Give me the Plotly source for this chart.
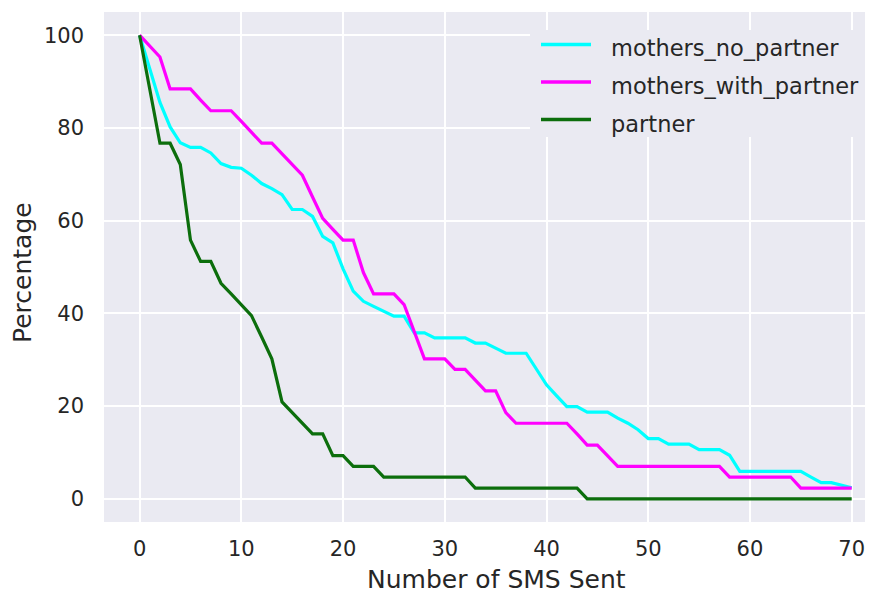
import plotly.graph_objects as go

# number of SMS sent (x axis)
sms_sent = list(range(71))

mothers_no_partner = [
    100.0, 92.6, 85.5, 80.2, 76.8, 75.8, 75.8, 74.6, 72.3, 71.5,
    71.3, 69.8, 68.0, 66.9, 65.6, 62.4, 62.4, 60.9, 56.6, 55.2,
    49.6, 44.8, 42.6, 41.5, 40.4, 39.4, 39.4, 35.8, 35.8, 34.7,
    34.7, 34.7, 34.7, 33.6, 33.6, 32.5, 31.4, 31.4, 31.4, 28.0,
    24.6, 22.2, 19.9, 19.9, 18.7, 18.7, 18.7, 17.4, 16.3, 14.9,
    13.0, 13.0, 11.8, 11.8, 11.8, 10.6, 10.6, 10.6, 9.4, 5.9,
    5.9, 5.9, 5.9, 5.9, 5.9, 5.9, 4.7, 3.5, 3.5, 2.9,
    2.4,
]

mothers_with_partner = [
    100.0, 97.7, 95.3, 88.4, 88.4, 88.4, 86.0, 83.7, 83.7, 83.7,
    81.4, 79.1, 76.7, 76.7, 74.4, 72.1, 69.8, 65.1, 60.5, 58.1,
    55.8, 55.8, 48.8, 44.2, 44.2, 44.2, 41.9, 36.0, 30.2, 30.2,
    30.2, 27.9, 27.9, 25.6, 23.3, 23.3, 18.6, 16.3, 16.3, 16.3,
    16.3, 16.3, 16.3, 14.0, 11.6, 11.6, 9.3, 7.0, 7.0, 7.0,
    7.0, 7.0, 7.0, 7.0, 7.0, 7.0, 7.0, 7.0, 4.7, 4.7,
    4.7, 4.7, 4.7, 4.7, 4.7, 2.3, 2.3, 2.3, 2.3, 2.3,
    2.3,
]

partner = [
    100.0, 88.4, 76.7, 76.7, 72.1, 55.8, 51.2, 51.2, 46.5, 44.2,
    41.9, 39.5, 34.9, 30.2, 20.9, 18.6, 16.3, 14.0, 14.0, 9.3,
    9.3, 7.0, 7.0, 7.0, 4.7, 4.7, 4.7, 4.7, 4.7, 4.7,
    4.7, 4.7, 4.7, 2.3, 2.3, 2.3, 2.3, 2.3, 2.3, 2.3,
    2.3, 2.3, 2.3, 2.3, 0.0, 0.0, 0.0, 0.0, 0.0, 0.0,
    0.0, 0.0, 0.0, 0.0, 0.0, 0.0, 0.0, 0.0, 0.0, 0.0,
    0.0, 0.0, 0.0, 0.0, 0.0, 0.0, 0.0, 0.0, 0.0, 0.0,
    0.0,
]

series_names = ["mothers_no_partner", "mothers_with_partner", "partner"]
series_colors = ["#00FFFF", "#FF00FF", "#0c6e0c"]
x_ticks = [0, 10, 20, 30, 40, 50, 60, 70]
y_ticks = [0, 20, 40, 60, 80, 100]

BG = "#EAEAF2"
TEXT = "#262626"
FONT = "DejaVu Sans"

# the page body has an 8px margin, so the figure is 8px smaller than the window
OFF = 8
W, H = 873 - OFF, 593 - OFF
L, R, T, B = 104 - OFF, 3, 12 - OFF, 71


def px(x):
    """window pixel -> paper x"""
    return (x - OFF - L) / (W - L - R)


def py(y):
    """window pixel -> paper y"""
    return (H - B - (y - OFF)) / (H - T - B)


fig = go.Figure()
for name, values, color in zip(series_names,
                               [mothers_no_partner, mothers_with_partner, partner],
                               series_colors):
    fig.add_trace(go.Scatter(x=sms_sent, y=values, mode="lines", name=name,
                             line=dict(color=color, width=3.2), showlegend=False))

# hand-drawn legend, matplotlib style (long handles, no frame)
shapes = [dict(type="rect", xref="paper", yref="paper", x0=px(530), x1=px(870),
               y0=py(137), y1=py(30), fillcolor=BG, line=dict(width=0), layer="above")]
annotations = []
for i, (name, color) in enumerate(zip(series_names, series_colors)):
    row = 44.5 + i * 37.5
    shapes.append(dict(type="line", xref="paper", yref="paper", x0=px(541), x1=px(591),
                       y0=py(row), y1=py(row), line=dict(color=color, width=3.5),
                       layer="above"))
    annotations.append(dict(text=name, xref="paper", yref="paper", x=px(609), y=py(row + 4),
                            xanchor="left", yanchor="middle", showarrow=False,
                            font=dict(size=22.5, color=TEXT, family=FONT)))

annotations.append(dict(text="Number of SMS Sent", xref="paper", yref="paper",
                        x=px(497), y=py(579), xanchor="center", yanchor="middle",
                        showarrow=False, font=dict(size=25, color=TEXT, family=FONT)))
annotations.append(dict(text="Percentage", xref="paper", yref="paper",
                        x=px(22), y=py(273), xanchor="center", yanchor="middle",
                        textangle=-90, showarrow=False,
                        font=dict(size=25, color=TEXT, family=FONT)))

fig.update_layout(
    width=W, height=H,
    margin=dict(l=L, r=R, t=T, b=B),
    paper_bgcolor="white",
    plot_bgcolor=BG,
    font=dict(family=FONT, size=21, color=TEXT),
    shapes=shapes,
    annotations=annotations,
)
fig.update_xaxes(range=[-3.5, 71.8], tickvals=x_ticks, showgrid=True, gridcolor="white",
                 gridwidth=1.8, zeroline=False, showline=False, ticks="",
                 ticklabelstandoff=12)
fig.update_yaxes(range=[-5, 105], tickvals=y_ticks, showgrid=True, gridcolor="white",
                 gridwidth=1.8, zeroline=False, showline=False, ticks="",
                 ticklabelstandoff=19)

fig.write_html("out.html")
